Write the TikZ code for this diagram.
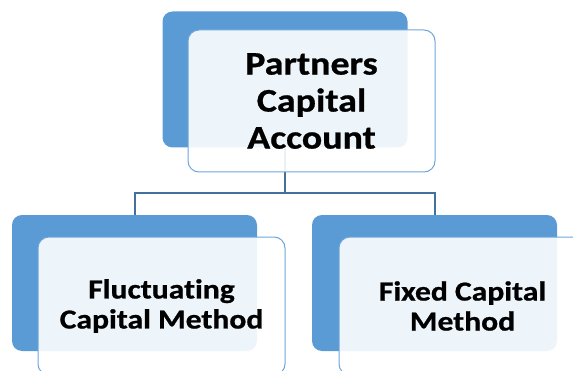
\documentclass[tikz,border=0pt]{standalone}
\usepackage{fontspec}
\setmainfont{Carlito}
\newfontfamily\widefont{Carlito}[FakeStretch=1.15, Ligatures={NoCommon}, BoldFeatures={FakeStretch=1.15, Ligatures={NoCommon}, FakeBold=0.8}]
\definecolor{backblue}{HTML}{5B9BD5}
\definecolor{lineblue}{HTML}{41719C}
\definecolor{frontedge}{HTML}{6FA6DA}
\tikzset{
  backbox/.style={draw=none, fill=backblue, rounded corners=10pt, minimum width=245pt, minimum height=136pt, inner sep=0pt, outer sep=0pt},
  frontbox/.style={draw=frontedge, line width=1pt, fill=white, fill opacity=0.9, text opacity=1, rounded corners=11pt, minimum width=247pt, minimum height=140pt, inner sep=0pt, outer sep=0pt, align=center},
  conn/.style={draw=lineblue, line width=2pt}
}
\begin{document}
\begin{tikzpicture}[x=1pt,y=1pt]
\useasboundingbox (0,0) rectangle (573,370);
\clip (0,0) rectangle (573,370);
\node[backbox] (topback) at (285,290.5) {};
\node[backbox] (leftback) at (134.5,87) {};
\node[backbox] (rightback) at (434.5,87) {};
\coordinate (junction) at (285,177);
\draw[conn] (topback.south) -- (junction) -| (leftback.north);
\draw[conn] (junction) -| (rightback.north);
\node[frontbox, minimum height=142pt, font=\widefont\bfseries\fontsize{33}{37}\selectfont] (topfront) at (311.5,269) {Partners\\Capital\\Account};
\node[frontbox, minimum height=138pt, font=\widefont\bfseries\fontsize{27.5}{30}\selectfont] (leftfront) at (161.5,64) {Fluctuating\\Capital Method};
\node[frontbox, minimum height=138pt, font=\widefont\bfseries\fontsize{27.5}{30}\selectfont] (rightfront) at (462.5,64) {Fixed Capital\\Method};
\end{tikzpicture}
\end{document}
